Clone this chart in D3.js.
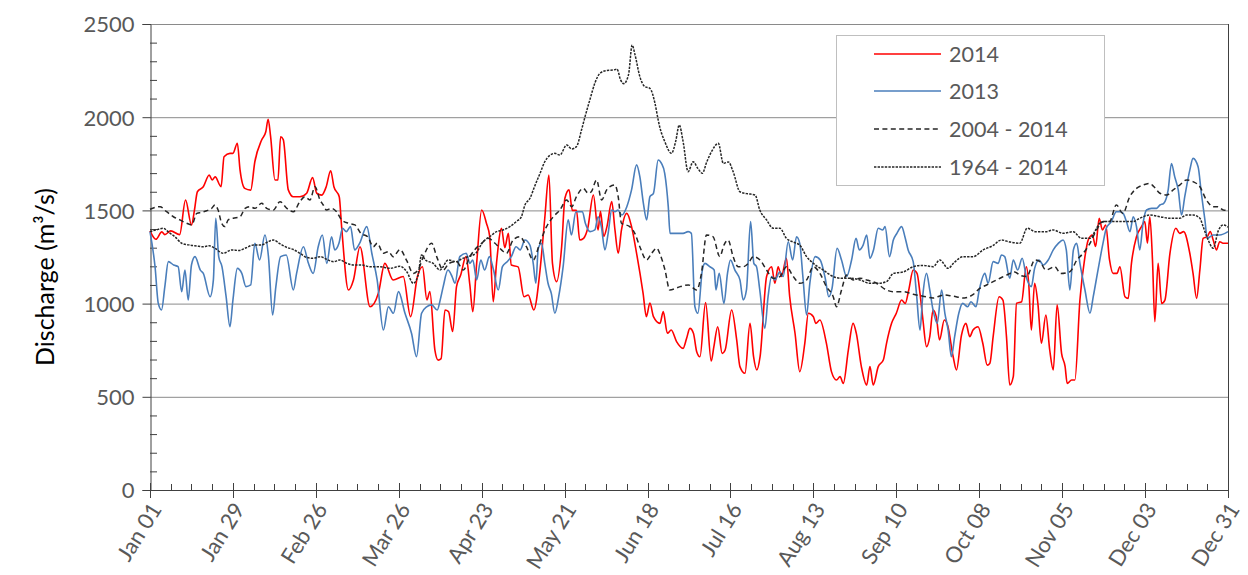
<!DOCTYPE html>
<html>
<head>
<meta charset="utf-8">
<script src="https://cdn.jsdelivr.net/npm/d3@7"></script>
<style>
  html, body { margin: 0; padding: 0; background: #fff; }
  svg { display: block; font-family: Lato, "Liberation Sans", sans-serif; }
</style>
</head>
<body>
<svg id="chart" width="1248" height="575"></svg>
<script>
// Daily discharge, day-of-year offset from Jan 01 paired with m³/s
const q2014 = [[0,1390],[2,1345],[4,1385],[5,1370],[7,1390],[10,1370],[12,1556],[14,1422],[15,1500],[16,1600],[18,1627],[20,1690],[21,1663],[22,1680],[24,1627],[25,1788],[27,1806],[28,1806],[29.5,1860],[30.4,1717],[32,1618],[34,1609],[35.4,1761],[37.7,1878],[39.1,1922],[39.9,1989],[40.7,1900],[42.2,1663],[43.2,1663],[44.1,1895],[45,1880],[46.7,1610],[48.4,1573],[50.6,1573],[52.9,1592],[54.9,1676],[56.3,1592],[58,1582],[59.5,1627],[61,1713],[62.1,1627],[63.9,1573],[64.7,1413],[67,1073],[68.7,1127],[70.9,1305],[74.3,983],[77.1,1055],[79.3,1216],[82.1,1127],[85.5,1145],[88,930],[90.3,1145],[92,1198],[93.5,1020],[94.5,1064],[96.2,751],[97.3,697],[98.3,705],[99.6,966],[100.8,957],[102.2,850],[103.5,1091],[104.9,1153],[106.7,1252],[108,1100],[109,957],[110.3,1216],[112,1502],[113.6,1431],[114.7,1360],[115.9,1010],[117,1216],[118.7,1404],[119.8,1300],[121,1377],[122,1207],[124.3,1197],[126.3,1037],[127.7,1046],[129.6,966],[131.7,1180],[133.3,1458],[134.7,1690],[135.9,1216],[137.3,1118],[139,1305],[140.1,1565],[141.5,1610],[142.6,1500],[144,1500],[145.1,1341],[146.4,1350],[147.8,1404],[149.7,1583],[151.3,1395],[152.1,1495],[153.2,1360],[154.3,1413],[155.9,1547],[157,1395],[158.1,1270],[159.2,1395],[161,1484],[162.6,1413],[164.3,1270],[166.5,1055],[167.6,930],[168.8,1003],[170,930],[172.2,894],[173.3,957],[174.7,841],[176,858],[177.8,796],[180,760],[181.2,814],[182.3,867],[183.5,841],[184.6,742],[185.7,715],[187.6,1005],[189.5,692],[190.4,769],[191.7,876],[193.2,733],[194.2,751],[196.4,966],[198.1,805],[199.2,662],[200.9,626],[202.6,894],[203.8,715],[204.9,644],[206,715],[208.2,1145],[209.9,1198],[211,1109],[212.1,1198],[213.2,1145],[214.9,1243],[216,1037],[217.8,841],[219.4,635],[221.1,787],[222.3,948],[224,930],[224.8,894],[226.2,912],[228.4,787],[230.1,635],[231.8,590],[233,608],[234.1,572],[235.8,751],[237.4,894],[238.5,840],[240.2,662],[242,563],[243.1,662],[244.2,563],[245.9,662],[247.6,697],[248.7,787],[250.4,894],[252,948],[253.8,1019],[255,1001],[256.2,1073],[257.7,1180],[259,1162],[260,1055],[261,912],[262.2,769],[263.3,823],[264.4,966],[265.5,930],[266.6,805],[268.2,912],[269.3,885],[271.2,715],[272.3,644],[274,830],[275.5,894],[276.8,823],[277.9,858],[279.6,876],[281.2,787],[282.7,670],[283.6,680],[284.7,823],[286.7,1037],[288,1019],[289.2,823],[290.3,563],[291.5,608],[292.6,1001],[294.3,1010],[295.9,1198],[296.7,1109],[297.6,858],[298.7,1109],[299.8,1001],[301,787],[302.5,939],[303.8,751],[305,644],[306.3,993],[307.8,733],[309,662],[309.7,572],[311.2,590],[312.3,590],[314,1019],[315.7,1252],[316.8,1341],[318.2,1368],[319.3,1306],[320.5,1458],[321.6,1395],[322.7,1422],[324,1234],[325.2,1162],[326.5,1162],[327.5,1198],[329.2,1037],[330.3,1028],[331.4,1216],[333.1,1359],[334.8,1413],[335.9,1440],[336.8,1324],[337.6,1466],[338.5,1234],[339.3,903],[340.4,1216],[341.6,1001],[342.7,1019],[344.4,1270],[346.4,1404],[347.7,1377],[349,1386],[351.1,1270],[352.2,1162],[353.4,1028],[354.5,1180],[355.6,1350],[357,1359],[358,1386],[359,1341],[360.1,1288],[361.2,1332],[362.3,1324],[364,1324]];

const q2013 = [[0,1386],[1.7,1198],[2.8,1001],[3.9,966],[5,1090],[6.2,1225],[8,1207],[9.5,1198],[10.7,1064],[11.8,1180],[12.9,1019],[14,1207],[15.2,1252],[17,1180],[18,1162],[20.3,1037],[21.4,1127],[22.2,1458],[23.2,1252],[24.3,1198],[25.7,1037],[27,876],[28,1019],[29.5,1189],[31,1162],[32.4,1091],[34,1100],[35.4,1324],[37,1234],[38.8,1368],[40,1252],[41.4,939],[42.5,1091],[44.1,1252],[46,1261],[48.4,1073],[49.5,1162],[51.8,1305],[53.5,1216],[55.1,1162],[56.8,1305],[58.2,1368],[59.7,1216],[61.3,1359],[62.4,1288],[63.8,1324],[65,1404],[66.3,1386],[67.7,1413],[69.1,1288],[70.8,1324],[73.2,1413],[74.9,1270],[76.7,1127],[78.8,858],[80.5,983],[82.2,948],[83.9,1064],[86.1,948],[88.3,841],[90,715],[91.7,948],[93.4,983],[95.1,993],[97,966],[98,1020],[99,1091],[100.6,1180],[102,1145],[103,1109],[104.6,1252],[106.8,1270],[108,1216],[109,1234],[110.3,1127],[111.7,1234],[113,1180],[114.6,1252],[116,1180],[117.6,1073],[119,1198],[120.6,1225],[122,1252],[123.6,1305],[125,1288],[126.6,1341],[128.3,1313],[129.4,1216],[130.3,1109],[131.1,1296],[132.2,1323],[133.3,1216],[134.4,1109],[135.5,1055],[136.7,948],[138,1037],[139.5,1198],[141.2,1449],[142.3,1368],[143.8,1493],[145,1493],[146,1493],[147,1431],[148.6,1386],[150.2,1395],[151.3,1466],[152.4,1413],[153.6,1288],[154.7,1377],[155.9,1502],[157,1493],[158,1502],[159.3,1475],[161,1520],[162.6,1610],[164.3,1744],[165.4,1681],[166.6,1538],[167.7,1449],[168.8,1574],[170,1592],[171.6,1770],[172.7,1752],[173.8,1699],[175,1520],[175.6,1377],[178,1377],[180,1377],[181.7,1386],[182.8,1377],[184,983],[185,948],[186.5,1180],[187.4,1216],[189,1198],[190.5,1180],[191.1,1073],[192.2,1162],[193.8,1001],[195,1162],[196,1234],[197.5,1180],[199.2,1127],[200.3,1019],[201.4,1073],[202.8,1440],[203.9,1216],[204.8,1198],[205.9,1073],[207.6,867],[208.7,1037],[209.9,1145],[211,1127],[212.7,1171],[213.8,1145],[215.5,1332],[217,1234],[218.3,1359],[219.4,1323],[220.5,1136],[221.7,939],[222.8,1109],[224.6,1252],[226.3,1234],[228,1136],[229.2,1037],[230.3,1082],[232,1297],[233.5,1234],[235.2,1145],[236.9,1234],[238.4,1350],[239.5,1288],[240.8,1314],[242,1368],[243.1,1243],[244.3,1288],[245.9,1404],[247.4,1395],[248.2,1413],[249.7,1252],[251,1341],[252.2,1377],[253.8,1413],[254.9,1359],[256,1288],[257.7,1225],[258.8,1055],[260,858],[260.9,1037],[262.2,1162],[263.3,1073],[264.4,966],[265.8,894],[267.3,1073],[268.4,948],[269.5,858],[270.6,715],[271.7,823],[273.1,948],[274.4,1001],[276.1,983],[277.2,1010],[278.9,983],[280,1073],[281.9,1162],[283,1109],[284.7,1225],[286.4,1216],[287.5,1261],[288.6,1252],[290.3,1136],[291.5,1234],[293,1180],[294.5,1243],[296,1136],[297.6,1091],[298.7,1189],[300.2,1234],[301.6,1207],[303.3,1234],[305,1288],[306.7,1323],[308.3,1341],[309.4,1288],[310.6,1073],[311.8,1288],[312.9,1324],[314,1216],[315.7,1073],[317.4,948],[318.5,1037],[320.1,1180],[321.8,1324],[322.9,1404],[324.6,1440],[326.3,1493],[327.5,1493],[328.6,1484],[329.7,1440],[330.9,1386],[332,1466],[333.1,1413],[334.2,1288],[335.3,1431],[336.5,1502],[338.2,1511],[339.9,1511],[341,1529],[342.3,1538],[343.8,1610],[344.9,1752],[346,1681],[347.2,1610],[348.3,1475],[349.4,1574],[351.1,1716],[352.2,1779],[353.9,1734],[355,1592],[356.2,1449],[357,1350],[359,1368],[361.2,1368],[364,1386]];

const qMean2004 = [[0,1506],[3.4,1520],[5.6,1493],[7.9,1466],[10.1,1449],[12.4,1431],[14.1,1422],[15.8,1484],[17.5,1490],[19.1,1498],[20.8,1511],[21.9,1529],[23,1502],[24.2,1431],[25.3,1413],[26.4,1449],[28.1,1458],[30.4,1466],[32.1,1511],[33.8,1520],[35.4,1511],[37.7,1538],[39.4,1511],[41.6,1502],[43.9,1547],[46.2,1511],[48.4,1493],[50.6,1547],[52.3,1573],[54,1556],[55.7,1627],[57.4,1556],[58.5,1529],[59.6,1502],[61.3,1511],[63,1493],[64.7,1449],[67,1431],[69.2,1422],[71.2,1377],[73.5,1359],[75.4,1305],[76.7,1324],[78.8,1270],[80.5,1279],[82.1,1252],[84.4,1290],[86.7,1230],[88.9,1162],[90.5,1180],[92.3,1252],[95.1,1324],[96.8,1252],[99,1180],[101,1216],[103.5,1225],[105.8,1180],[108,1252],[109.6,1288],[112,1324],[114.2,1350],[116.5,1324],[118.7,1288],[120.4,1270],[122.6,1341],[124.9,1359],[127.1,1305],[129.4,1234],[131.6,1324],[133.9,1413],[136.2,1466],[138.4,1502],[140.7,1556],[142.4,1520],[144,1574],[146.3,1618],[148,1592],[149,1600],[150.8,1663],[152.5,1556],[154.2,1610],[155.3,1627],[157,1636],[158.1,1573],[159.2,1431],[162,1413],[163.7,1377],[165.4,1305],[167.7,1234],[169.4,1270],[171.1,1297],[172.1,1270],[173.9,1180],[175.5,1073],[179,1091],[181.8,1100],[184.6,1073],[186.2,1162],[187.9,1368],[190.1,1359],[192.4,1252],[193.8,1314],[195.2,1341],[196.9,1252],[198.6,1198],[200.3,1198],[202,1216],[203.7,1252],[206,1234],[208.2,1180],[210.4,1136],[212.7,1145],[214.9,1198],[217.2,1145],[219.4,1109],[221.7,1127],[224,1198],[226.2,1162],[228.4,1091],[230.7,1037],[231.8,983],[233.5,1073],[235.2,1153],[237.4,1127],[239.7,1136],[242,1127],[245.3,1109],[248.7,1073],[251,1064],[254.4,1064],[257.7,1050],[261,1040],[264.4,1030],[268,1046],[271,1040],[275,1030],[278,1050],[280.2,1082],[282.5,1100],[284.7,1118],[287,1136],[289.2,1153],[292,1170],[294,1150],[296,1145],[298.8,1234],[300.5,1225],[302.5,1180],[305.5,1198],[307.5,1162],[310.6,1171],[313,1234],[315.1,1270],[317.4,1323],[319.6,1395],[321.8,1440],[324,1440],[326.3,1529],[328.5,1484],[330.8,1573],[333.1,1618],[335.3,1636],[337.5,1645],[339,1627],[341,1592],[343.3,1583],[345.5,1610],[347.7,1636],[350,1663],[352.2,1654],[354.5,1627],[356.7,1556],[359,1520],[360.5,1520],[362.4,1502],[364,1500]];

const qMean1964 = [[0,1386],[2,1395],[4.5,1404],[6.5,1380],[8.4,1359],[10.7,1324],[13,1315],[15.8,1309],[18,1305],[20,1310],[21.9,1297],[24.7,1270],[27.6,1288],[30,1285],[32.5,1300],[34.9,1314],[37.5,1314],[39.9,1332],[41.6,1341],[44,1320],[46.1,1302],[48.4,1290],[50.6,1270],[52.9,1248],[55,1243],[57.5,1252],[59.6,1238],[62,1225],[64.1,1234],[66.5,1216],[68.6,1207],[71.5,1207],[74.3,1198],[77.5,1198],[81,1189],[84.4,1200],[86.7,1171],[88.9,1109],[90.5,1150],[91.7,1261],[93,1234],[95.6,1216],[97.9,1180],[100.7,1234],[103.5,1225],[105.2,1240],[107.5,1252],[110,1270],[112.5,1332],[114.8,1360],[117,1386],[119.2,1395],[121.5,1413],[123.7,1440],[125.4,1466],[126.6,1529],[128.3,1565],[129.9,1630],[131.7,1699],[133.3,1761],[135,1795],[136.7,1806],[138.4,1797],[140.7,1851],[142.4,1830],[144,1842],[145.7,1931],[146.9,2003],[148.5,2092],[150.2,2182],[151.9,2235],[154,2250],[156.4,2253],[157.7,2258],[158.9,2200],[160,2180],[161.6,2230],[162.8,2387],[163.7,2340],[165.4,2218],[167.1,2164],[168.8,2155],[170.5,2075],[171.6,1985],[172.1,1949],[173.8,1870],[176.1,1806],[177.5,1870],[178.7,1958],[180,1870],[181.7,1708],[183.4,1761],[185,1725],[186.5,1699],[188,1760],[189.6,1815],[191.9,1860],[193.6,1752],[195.3,1760],[196.9,1708],[199.2,1600],[201.5,1590],[204.3,1583],[205.9,1502],[208.2,1449],[210.4,1404],[212.7,1404],[214.9,1350],[217.2,1330],[219.4,1314],[221.7,1252],[224,1216],[227.3,1180],[230.7,1145],[233.5,1136],[236.3,1136],[239.7,1127],[243.1,1109],[246,1109],[248.7,1118],[251,1162],[254.4,1170],[257.7,1198],[261,1205],[264.4,1198],[266.7,1234],[269.5,1189],[271.5,1220],[274.6,1252],[278,1252],[281.3,1288],[284.5,1310],[287.5,1341],[290.5,1330],[293.7,1324],[296.2,1404],[299,1386],[302.5,1386],[305,1395],[308.3,1377],[311.7,1386],[314.5,1350],[317.4,1350],[319.3,1395],[320.7,1431],[322.6,1440],[325.2,1440],[328.5,1440],[331.9,1440],[334.2,1458],[337.5,1475],[341,1466],[344.4,1458],[347.7,1458],[350,1475],[352.2,1475],[354.5,1458],[355.6,1413],[357.3,1341],[359,1297],[360.7,1390],[362.4,1422],[364,1410]];

const seriesNames = ["2014", "2013", "2004 - 2014", "1964 - 2014"];
const yTicks = [0, 500, 1000, 1500, 2000, 2500];
const xTickDays = [0, 28, 56, 84, 112, 140, 168, 196, 224, 252, 280, 308, 336, 364];
const yTitle = "Discharge (m³/s)";

const svg = d3.select("#chart");
const plotL = 150, plotR = 1228, plotT = 24, plotB = 490;

const dayToDate = d => new Date(Date.UTC(2014, 0, 1) + d * 864e5);
const x = d3.scaleUtc().domain([dayToDate(0), dayToDate(364)]).range([plotL, plotR]);
const y = d3.scaleLinear().domain([0, 2500]).range([plotB, plotT]);
const fmt = d3.utcFormat("%b %d");

const gridColor = "#8a8a8a", axisColor = "#404040", textColor = "#595959";

// horizontal gridlines
svg.append("g").selectAll("line").data(yTicks.filter(v => v > 0)).join("line")
  .attr("x1", plotL).attr("x2", plotR)
  .attr("y1", d => y(d) + 0.5).attr("y2", d => y(d) + 0.5)
  .attr("stroke", gridColor).attr("stroke-width", 1);

// right frame edge
svg.append("line").attr("x1", plotR + 0.5).attr("x2", plotR + 0.5)
  .attr("y1", plotT).attr("y2", plotB).attr("stroke", axisColor).attr("stroke-width", 1);

// y axis: major ticks outside, minor ticks inside
const yAxis = svg.append("g").attr("transform", `translate(${plotL + 0.5},0)`)
  .call(d3.axisLeft(y).tickValues(yTicks).tickSize(8).tickPadding(8).tickFormat(d3.format("d")));
yAxis.select(".domain").attr("stroke", axisColor);
yAxis.selectAll(".tick line").attr("stroke", axisColor);
yAxis.selectAll("text").attr("fill", textColor).style("font-size", "22px")
  .style("font-family", "Lato, sans-serif").attr("dy", "0.36em");

const yMinor = d3.range(0, 2501, 100).filter(v => v % 500 !== 0);
svg.append("g").selectAll("line").data(yMinor).join("line")
  .attr("x1", plotL).attr("x2", plotL + 7)
  .attr("y1", d => y(d) + 0.5).attr("y2", d => y(d) + 0.5)
  .attr("stroke", axisColor);

// x axis line and ticks
svg.append("line").attr("x1", plotL).attr("x2", plotR + 1)
  .attr("y1", plotB + 0.5).attr("y2", plotB + 0.5).attr("stroke", axisColor);
const xMinor = d3.range(7, 364, 7).filter(d => d % 28 !== 0);
svg.append("g").selectAll("line").data(xMinor).join("line")
  .attr("x1", d => Math.round(x(dayToDate(d))) + 0.5).attr("x2", d => Math.round(x(dayToDate(d))) + 0.5)
  .attr("y1", plotB - 6).attr("y2", plotB).attr("stroke", axisColor);
svg.append("g").selectAll("line").data(xTickDays).join("line")
  .attr("x1", d => Math.round(x(dayToDate(d))) + 0.5).attr("x2", d => Math.round(x(dayToDate(d))) + 0.5)
  .attr("y1", plotB - 7).attr("y2", plotB + 8).attr("stroke", axisColor);

svg.append("g").selectAll("text").data(xTickDays).join("text")
  .attr("transform", d => `translate(${x(dayToDate(d)) + 6},${plotB + 15}) rotate(-58)`)
  .attr("text-anchor", "end").attr("dy", "0.35em")
  .attr("fill", textColor).style("font-size", "22px")
  .text(d => fmt(dayToDate(d)));

// y axis title
svg.append("text")
  .attr("transform", `translate(54,277) rotate(-90)`)
  .attr("text-anchor", "middle").attr("fill", "#000").style("font-size", "25px")
  .text(yTitle);

// series
const line = d3.line().x(d => x(dayToDate(d[0]))).y(d => y(d[1])).curve(d3.curveMonotoneX);
const styles = [
  { data: q2014, color: "#ff0000", dash: null, width: 1.6 },
  { data: q2013, color: "#4a7ebb", dash: null, width: 1.6 },
  { data: qMean2004, color: "#262626", dash: "5,3.4", width: 1.5 },
  { data: qMean1964, color: "#262626", dash: "2.4,1.2", width: 1.5 }
];
styles.forEach(s => {
  svg.append("path").datum(s.data).attr("d", line)
    .attr("fill", "none").attr("stroke", s.color).attr("stroke-width", s.width)
    .attr("stroke-linejoin", "round")
    .attr("stroke-dasharray", s.dash);
});

// legend
const lg = svg.append("g");
lg.append("rect").attr("x", 836.5).attr("y", 35.5).attr("width", 268).attr("height", 150)
  .attr("fill", "#fff").attr("stroke", "#bfbfbf").attr("stroke-width", 1);
const rowY = [54, 91, 129, 167];
seriesNames.forEach((name, i) => {
  lg.append("line").attr("x1", 874).attr("x2", 941).attr("y1", rowY[i]).attr("y2", rowY[i])
    .attr("stroke", styles[i].color).attr("stroke-width", styles[i].width)
    .attr("stroke-dasharray", styles[i].dash);
  lg.append("text").attr("x", 949).attr("y", rowY[i]).attr("dy", "0.36em")
    .attr("fill", textColor).style("font-size", "21.5px").text(name);
});
</script>
</body>
</html>
